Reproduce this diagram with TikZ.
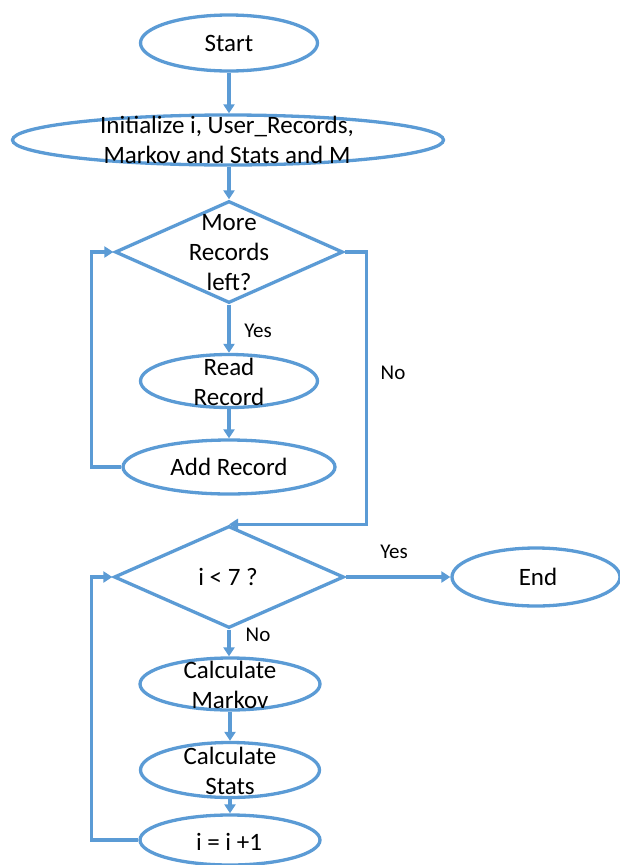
\documentclass[tikz,border=0pt]{standalone}
\usepackage{fontspec}
\setmainfont{Carlito}
\usetikzlibrary{shapes.geometric,arrows.meta}
\definecolor{flowblue}{HTML}{5B9BD5}
\tikzset{
  term/.style n args={2}{ellipse, draw=flowblue, line width=3.3pt, inner sep=0pt,
    minimum width=#1, minimum height=#2},
  decide/.style n args={2}{diamond, draw=flowblue, line width=3.3pt, inner sep=0pt,
    minimum width=#1, minimum height=#2},
  txt/.style={align=center, inner sep=0pt, font=\fontsize{25}{30}\selectfont},
  small/.style={inner sep=0pt, font=\fontsize{21}{25}\selectfont},
  flow/.style={draw=flowblue, line width=3.3pt, -{Triangle[length=9pt,width=11pt]}},
}
\begin{document}
\begin{tikzpicture}[x=1pt,y=-1pt]
\useasboundingbox (0,0) rectangle (620,865);
\begin{scope}
\clip (0,0) rectangle (620,865);

% shapes
\node[term={177pt}{56pt}] (start) at (229,43) {};
\node[term={431pt}{50pt}] (init) at (228,140) {};
\node[decide={228pt}{102pt}] (d1) at (229,252) {};
\node[term={177pt}{53pt}] (read) at (229,381) {};
\node[term={212pt}{54pt}] (add) at (229,467) {};
\node[decide={230pt}{102pt}] (d2) at (229,577) {};
\node[term={168pt}{58pt}] (end) at (536,577) {};
\node[term={180pt}{52pt}] (markov) at (230,684) {};
\node[term={179pt}{55pt}] (stats) at (230,770) {};
\node[term={180pt}{50pt}] (inc) at (230,840) {};

% texts
\node[txt] (startT) at (start) {Start};
\node[txt] (initT) at (227,140) {Initialize i, User\_Records,\\Markov and Stats and M};
\node[txt] (d1T) at (229,253) {More\\Records\\left?};
\node[txt] (readT) at (229,382) {Read\\Record};
\node[txt] (addT) at (add) {Add Record};
\node[txt] (d2T) at (228,577) {i < 7 ?};
\node[txt] (endT) at (538,577) {End};
\node[txt] (markovT) at (230,685) {Calculate\\Markov};
\node[txt] (statsT) at (230,771) {Calculate\\Stats};
\node[txt] (incT) at (229,842) {i = i +1};

% connectors
\draw[flow] (start.south) -- (init.north -| start.south);
\draw[flow] (init.south -| d1.north) -- (d1.north);
\draw[flow] (d1.south) -- (read.north);
\draw[flow] (read.south) -- (add.north);
\draw[flow] (add.west) -- ++(-30,0) |- (d1.west);
\draw[flow] (d1.east) -- ++(22,0) |- (d2.north);
\draw[flow] (d2.east) -- (end.west);
\draw[flow] (d2.south) -- (markov.north -| d2.south);
\draw[flow] (markov.south) -- (stats.north);
\draw[flow] (stats.south) -- (inc.north);
\draw[flow] (inc.west) -- ++(-47,0) |- (d2.west);

% branch labels
\node[small] (yes1) at (258,331) {Yes};
\node[small] (no1) at (393,373) {No};
\node[small] (yes2) at (394,552) {Yes};
\node[small] (no2) at (258,635) {No};
\end{scope}
\end{tikzpicture}
\end{document}
